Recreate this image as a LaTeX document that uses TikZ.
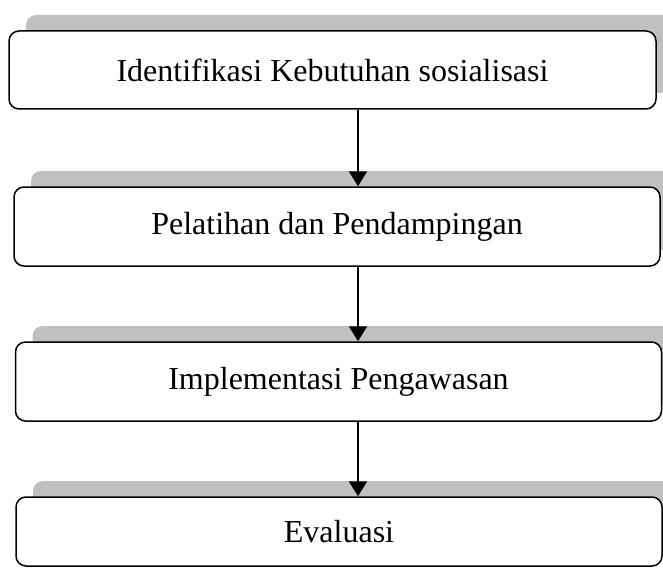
\documentclass[tikz,border=0pt]{standalone}
\usepackage{fontspec}
\setmainfont{Liberation Serif}
\usepackage{xcolor}
\usetikzlibrary{arrows.meta, positioning, shadows}
\definecolor{shadeGray}{HTML}{C0C0C0}

\begin{document}
\begin{tikzpicture}[x=1pt, y=-1pt,
    phase/.style={rectangle, rounded corners=10pt, draw=black, line width=1.5pt, fill=white,
                  minimum width=646pt, minimum height=79pt, inner sep=0pt,
                  font=\fontsize{32}{38}\selectfont,
                  drop shadow={shadow xshift=17pt, shadow yshift=16pt, fill=shadeGray, opacity=1}},
    arrow/.style={-{Triangle[length=15pt, width=18pt]}, line width=2pt, black},
]
\clip (0,0) rectangle (663,567);
\node[phase, minimum width=647pt, minimum height=78pt] (ident) at (332.5,70) {Identifikasi Kebutuhan sosialisasi};
\node[phase] (latih) at (337,226.5) {Pelatihan dan Pendampingan};
\node[phase] (impl) at (338.5,381.5) {Implementasi Pengawasan};
\node[phase, minimum height=69pt] (eval) at (339,531.5) {Evaluasi};
\coordinate (flow) at (358,0);
\draw[arrow] (flow |- ident.south) -- (flow |- latih.north);
\draw[arrow] (flow |- latih.south) -- (flow |- impl.north);
\draw[arrow] (flow |- impl.south) -- (flow |- eval.north);
\end{tikzpicture}
\end{document}
